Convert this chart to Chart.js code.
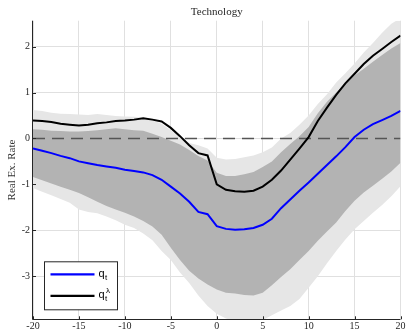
<!DOCTYPE html>
<html>
<head>
<meta charset="utf-8">
<script src="https://cdn.jsdelivr.net/npm/chart.js@4.4.0/dist/chart.umd.min.js"></script>
<style>
  html, body { margin: 0; padding: 0; background: #fff; }
  #wrap { width: 407px; height: 332px; }
</style>
</head>
<body>
<div id="wrap"><canvas id="chart" width="407" height="332"></canvas></div>
<script>
// ----------------------------------------------------------------------
// Data
// ----------------------------------------------------------------------
const horizons = [-20, -19, -18, -17, -16, -15, -14, -13, -12, -11, -10, -9, -8, -7, -6, -5, -4, -3, -2, -1,
  0, 1, 2, 3, 4, 5, 6, 7, 8, 9, 10, 11, 12, 13, 14, 15, 16, 17, 18, 19, 20];

const qt = [-0.22, -0.27, -0.32, -0.38, -0.43, -0.50, -0.54, -0.58, -0.61, -0.64, -0.68, -0.71, -0.74, -0.80, -0.90, -1.05, -1.20, -1.38, -1.60, -1.65,
  -1.91, -1.97, -1.99, -1.98, -1.95, -1.88, -1.75, -1.52, -1.33, -1.14, -0.96, -0.77, -0.58, -0.39, -0.19, 0.03, 0.19, 0.31, 0.40, 0.49, 0.60];

const qtLambda = [0.39, 0.38, 0.36, 0.32, 0.30, 0.28, 0.30, 0.33, 0.35, 0.38, 0.39, 0.41, 0.44, 0.41, 0.37, 0.23, 0.05, -0.15, -0.32, -0.37,
  -1.00, -1.12, -1.15, -1.16, -1.14, -1.05, -0.90, -0.70, -0.46, -0.22, 0.03, 0.38, 0.67, 0.95, 1.20, 1.41, 1.62, 1.80, 1.95, 2.10, 2.24];

const outerHi = [0.62, 0.60, 0.56, 0.54, 0.53, 0.52, 0.51, 0.53, 0.51, 0.49, 0.48, 0.47, 0.45, 0.40, 0.32, 0.18, 0.04, -0.10, -0.15, -0.22,
  -0.42, -0.46, -0.45, -0.41, -0.37, -0.30, -0.20, 0.00, 0.12, 0.30, 0.50, 0.75, 0.96, 1.22, 1.42, 1.63, 1.87, 2.08, 2.30, 2.50, 2.62];

const outerLo = [-1.08, -1.16, -1.24, -1.32, -1.40, -1.55, -1.60, -1.63, -1.70, -1.78, -1.88, -1.95, -2.07, -2.22, -2.45, -2.65, -2.92, -3.15, -3.42, -3.65,
  -3.82, -3.92, -3.98, -4.00, -4.00, -3.96, -3.85, -3.75, -3.65, -3.50, -3.25, -3.00, -2.72, -2.45, -2.20, -1.98, -1.80, -1.62, -1.45, -1.26, -1.04];

const innerHi = [0.20, 0.19, 0.17, 0.16, 0.15, 0.15, 0.16, 0.18, 0.20, 0.22, 0.20, 0.18, 0.17, 0.10, 0.03, -0.05, -0.13, -0.25, -0.38, -0.48,
  -0.75, -0.82, -0.82, -0.78, -0.73, -0.62, -0.50, -0.30, -0.12, 0.05, 0.25, 0.55, 0.80, 1.00, 1.20, 1.37, 1.52, 1.67, 1.82, 1.96, 2.08];

const innerLo = [-0.84, -0.91, -0.98, -1.05, -1.12, -1.19, -1.28, -1.38, -1.47, -1.55, -1.62, -1.70, -1.80, -1.92, -2.10, -2.38, -2.65, -2.88, -3.05, -3.18,
  -3.29, -3.36, -3.38, -3.41, -3.42, -3.36, -3.20, -3.02, -2.85, -2.65, -2.45, -2.23, -2.03, -1.83, -1.58, -1.36, -1.18, -1.03, -0.88, -0.72, -0.53];

const zeroX = [-20, 20];
const zeroY = [0, 0];

const xTicks = [-20, -15, -10, -5, 0, 5, 10, 15, 20];
const yTicks = [-3, -2, -1, 0, 1, 2];
const seriesNames = ["q_t", "q_t^λ"];

// ----------------------------------------------------------------------
// Styles
// ----------------------------------------------------------------------
const AXIS_COLOR = "#262626";
const GRID_COLOR = "#e0e0e0";
const LIGHT_BAND = "#e6e6e6";
const DARK_BAND = "#b3b3b3";
const SERIF = '"Liberation Serif", "DejaVu Serif", serif';
const SANS = '"Liberation Sans", Arial, sans-serif';

function toPoints(xsArr, ysArr) {
  return xsArr.map((x, i) => ({ x, y: ysArr[i] }));
}

function band(data, color, fill, order) {
  return {
    data: toPoints(horizons, data),
    borderWidth: 0,
    borderColor: "rgba(0,0,0,0)",
    backgroundColor: color,
    pointRadius: 0,
    tension: 0,
    fill,
    order,
  };
}

// ----------------------------------------------------------------------
// Plugins: title, inner tick marks + axis lines, legend with sub/superscripts
// ----------------------------------------------------------------------
const titlePlugin = {
  id: "titleText",
  afterDraw(chart) {
    const { ctx, chartArea: a } = chart;
    ctx.save();
    ctx.font = `11px ${SERIF}`;
    ctx.fillStyle = AXIS_COLOR;
    ctx.textAlign = "center";
    ctx.textBaseline = "alphabetic";
    ctx.fillText("Technology", (a.left + a.right) / 2, 14.5);
    ctx.restore();
  },
};

const axesPlugin = {
  id: "axesInner",
  afterDatasetsDraw(chart) {
    const { ctx, chartArea: a, scales: { x, y } } = chart;
    ctx.save();
    ctx.strokeStyle = AXIS_COLOR;
    ctx.lineWidth = 1;
    ctx.beginPath();
    xTicks.forEach((v) => {
      const px = Math.round(x.getPixelForValue(v)) + 0.5;
      ctx.moveTo(px, a.bottom);
      ctx.lineTo(px, a.bottom - 3);
    });
    yTicks.forEach((v) => {
      const py = Math.round(y.getPixelForValue(v)) + 0.5;
      ctx.moveTo(a.left, py);
      ctx.lineTo(a.left + 3, py);
    });
    ctx.stroke();
    ctx.beginPath();
    const lx = Math.round(a.left) - 0.5;
    const by = Math.round(a.bottom) + 0.5;
    ctx.moveTo(lx, a.top);
    ctx.lineTo(lx, by);
    ctx.lineTo(a.right, by);
    ctx.stroke();
    ctx.restore();
  },
};

const legendPlugin = {
  id: "legendBox",
  afterDraw(chart) {
    const { ctx, chartArea: a } = chart;
    const bx = a.left + 11.5, byTop = a.bottom - 57.5, bw = 73, bh = 48;
    ctx.save();
    ctx.fillStyle = "#fff";
    ctx.fillRect(bx, byTop, bw, bh);
    ctx.strokeStyle = AXIS_COLOR;
    ctx.lineWidth = 1;
    ctx.strokeRect(bx, byTop, bw, bh);

    const entries = [
      { ds: chart.data.datasets[5], ly: byTop + 12.5 },
      { ds: chart.data.datasets[6], ly: byTop + 34 },
    ];
    entries.forEach(({ ds, ly }, i) => {
      ctx.strokeStyle = ds.borderColor;
      ctx.lineWidth = 2.2;
      ctx.beginPath();
      ctx.moveTo(bx + 6, ly);
      ctx.lineTo(bx + 50, ly);
      ctx.stroke();

      const name = seriesNames[i];
      const base = ly + 2.5;
      const tx = bx + 54;
      ctx.fillStyle = "#000";
      ctx.textBaseline = "alphabetic";
      ctx.font = `11px ${SANS}`;
      ctx.fillText(name[0], tx, base);
      const qw = ctx.measureText(name[0]).width;
      ctx.font = `8px ${SANS}`;
      ctx.fillText("t", tx + qw + 0.3, base + 3);
      if (name.includes("^")) {
        ctx.fillText(name.split("^")[1], tx + qw + 1.5, base - 5.5);
      }
    });
    ctx.restore();
  },
};

// ----------------------------------------------------------------------
// Chart
// ----------------------------------------------------------------------
new Chart(document.getElementById("chart"), {
  type: "line",
  data: {
    datasets: [
      band(outerHi, LIGHT_BAND, "+1", 10),
      band(outerLo, LIGHT_BAND, false, 9),
      band(innerHi, DARK_BAND, "+1", 8),
      band(innerLo, DARK_BAND, false, 7),
      {
        data: toPoints(zeroX, zeroY),
        borderColor: "#555555",
        borderWidth: 1.6,
        borderDash: [12, 7],
        pointRadius: 0,
        fill: false,
        order: 3,
      },
      {
        label: seriesNames[0],
        data: toPoints(horizons, qt),
        borderColor: "#0000ff",
        borderWidth: 2,
        pointRadius: 0,
        tension: 0,
        fill: false,
        order: 2,
      },
      {
        label: seriesNames[1],
        data: toPoints(horizons, qtLambda),
        borderColor: "#000000",
        borderWidth: 2,
        pointRadius: 0,
        tension: 0,
        fill: false,
        order: 1,
      },
    ],
  },
  options: {
    responsive: false,
    animation: false,
    devicePixelRatio: 1,
    layout: { padding: { top: 20.7, right: 6.5, bottom: 0, left: 0 } },
    plugins: {
      legend: { display: false },
      tooltip: { enabled: false },
      title: { display: false },
    },
    scales: {
      x: {
        type: "linear",
        min: -20,
        max: 20,
        afterBuildTicks: (s) => { s.ticks = xTicks.map((v) => ({ value: v })); },
        afterFit: (s) => { s.height = 12.7; },
        grid: { color: GRID_COLOR, lineWidth: 1, drawTicks: false },
        border: { display: false },
        ticks: {
          padding: 1.5,
          color: AXIS_COLOR,
          font: { family: SERIF, size: 10 },
          maxRotation: 0,
        },
      },
      y: {
        type: "linear",
        min: -3.94,
        max: 2.565,
        afterBuildTicks: (s) => { s.ticks = yTicks.map((v) => ({ value: v })); },
        afterFit: (s) => { s.width = 33; },
        grid: { color: GRID_COLOR, lineWidth: 1, drawTicks: false },
        border: { display: false },
        ticks: {
          padding: 3,
          color: AXIS_COLOR,
          font: { family: SERIF, size: 10 },
        },
        title: {
          display: true,
          text: "Real Ex. Rate",
          color: "#333333",
          font: { family: SERIF, size: 11 },
          padding: { top: 6, bottom: 0 },
        },
      },
    },
  },
  plugins: [titlePlugin, axesPlugin, legendPlugin],
});
</script>
</body>
</html>
